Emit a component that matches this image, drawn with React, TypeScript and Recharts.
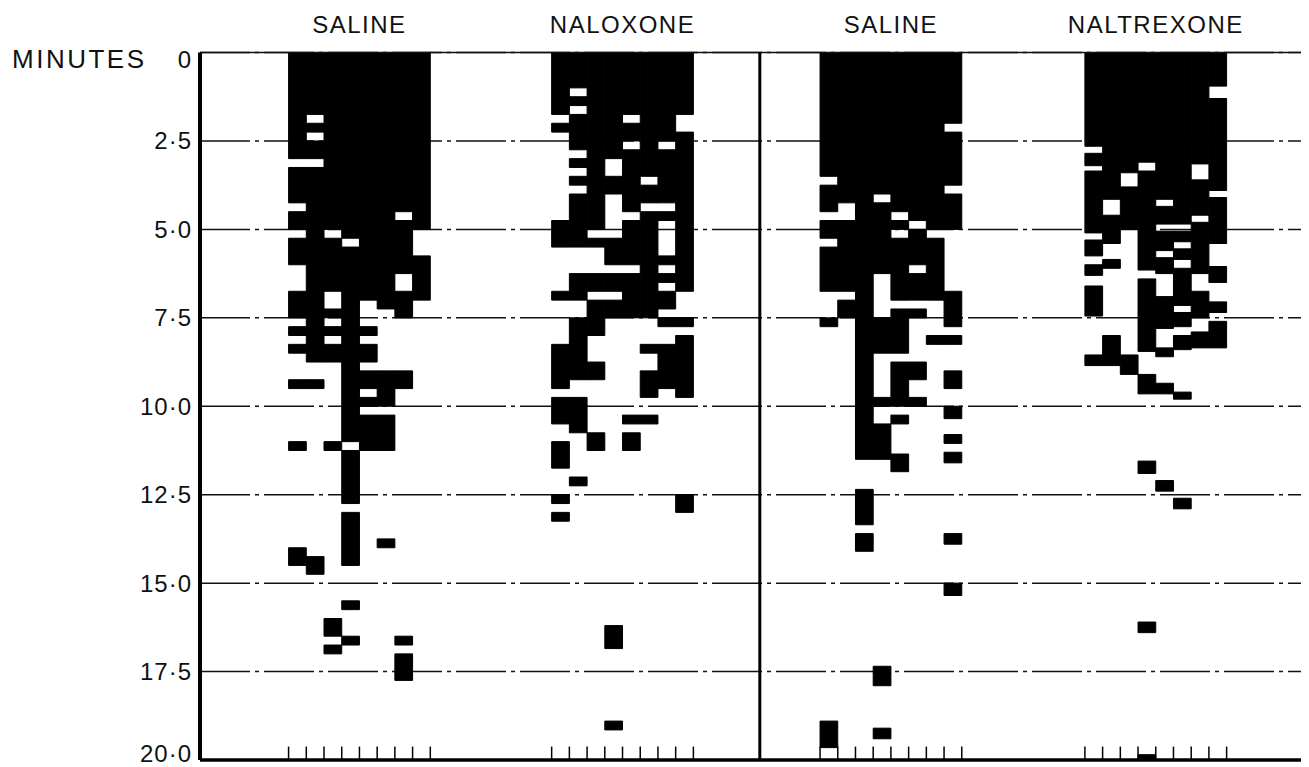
import React from "react";
import {
  CartesianGrid,
  ComposedChart,
  ReferenceArea,
  ReferenceLine,
  Scatter,
  XAxis,
  YAxis,
} from "recharts";

const groups = ["SALINE", "NALOXONE", "SALINE", "NALTREXONE"];
const minuteTicks = [0, 2.5, 5, 7.5, 10, 12.5, 15, 17.5, 20];
const minuteLabels = ["0", "2·5", "5·0", "7·5", "10·0", "12·5", "15·0", "17·5", "20·0"];

// black runs [from, to] in minutes, one list per animal, 8 animals per group
const salineA = [
  [[0, 3], [3.25, 4.25], [4.5, 5], [5.25, 6], [6.75, 7.5], [7.75, 8], [8.25, 8.5], [9.25, 9.5], [11, 11.25], [14, 14.5]],
  [[0, 1.75], [2, 2.25], [2.5, 3], [3.25, 8.75], [9.25, 9.5], [14.25, 14.75]],
  [[0, 5], [5.25, 6.75], [7.25, 7.5], [7.75, 8], [8.25, 8.75], [11, 11.25], [16, 16.5], [16.75, 17]],
  [[0, 5.25], [5.5, 11], [11.25, 12.75], [13, 14.5], [15.5, 15.75], [16.5, 16.75]],
  [[0, 7], [7.75, 8], [8.25, 8.75], [9, 9.5], [9.75, 10], [10.25, 11.25]],
  [[0, 7.25], [9, 10], [10.25, 11.25], [13.75, 14]],
  [[0, 4.5], [4.75, 6.25], [6.75, 7.5], [9, 9.5], [16.5, 16.75], [17, 17.75]],
  [[0, 5], [5.75, 7]],
];

const naloxone = [
  [[0, 1.75], [2, 2.25], [4.75, 5.5], [6.75, 7], [8.25, 9.5], [9.75, 10.5], [11, 11.75], [12.5, 12.75], [13, 13.25]],
  [[0, 1], [1.25, 1.5], [1.75, 2.75], [3, 3.25], [3.5, 3.75], [4, 5.5], [6.25, 7], [7.5, 9.25], [9.75, 10.75], [12, 12.25]],
  [[0, 5], [5.25, 5.5], [6.25, 6.75], [7, 8], [8.75, 9.25], [10.75, 11.25]],
  [[0, 3], [3.5, 4], [5.25, 6], [6.25, 6.75], [7, 7.5], [16.2, 16.85], [18.9, 19.15]],
  [[0, 1.75], [2, 2.5], [2.75, 4.5], [4.75, 6], [6.25, 7.5], [10.25, 10.5], [10.75, 11.25]],
  [[0, 3.5], [3.75, 4.25], [4.5, 7.5], [8.25, 8.5], [9, 9.75], [10.25, 10.5]],
  [[0, 2.5], [2.75, 4.25], [4.5, 4.75], [5.75, 6], [6.25, 6.5], [6.75, 7.25], [7.5, 7.75], [8.25, 9.5]],
  [[0, 1.75], [2.25, 6.75], [7.5, 7.75], [8, 9.75], [12.5, 13]],
];

const salineB = [
  [[0, 3.5], [3.75, 4.5], [4.75, 5.25], [5.5, 6.75], [7.5, 7.75], [18.9, 19.65]],
  [[0, 4.25], [4.75, 6.75], [7, 7.5]],
  [[0, 11.5], [12.35, 13.35], [13.6, 14.1]],
  [[0, 4], [4.25, 6.25], [7.5, 8.5], [9.75, 10], [10.5, 11.5], [17.35, 17.9], [19.1, 19.4]],
  [[0, 4.5], [4.75, 5], [5.25, 7], [7.25, 8.5], [8.75, 10], [10.25, 10.5], [11.35, 11.85]],
  [[0, 4.75], [5, 6], [6.25, 7], [7.25, 7.5], [8.75, 9.25], [9.75, 10]],
  [[0, 5], [5.25, 7], [8, 8.25]],
  [[0, 2], [2.25, 3.75], [4, 5], [6.75, 7.75], [8, 8.25], [9, 9.5], [10, 10.35], [10.8, 11.05], [11.3, 11.6], [13.6, 13.9], [15, 15.35]],
];

const naltrexone = [
  [[0, 2.65], [2.85, 3.2], [3.35, 5.1], [5.3, 5.75], [6, 6.3], [6.6, 7.45], [8.55, 8.85]],
  [[0, 4.15], [4.6, 5.4], [5.85, 6.1], [8, 8.85]],
  [[0, 3.4], [3.8, 5], [8.55, 9.1]],
  [[0, 3.1], [3.35, 6.15], [6.4, 8.45], [9.1, 9.65], [11.55, 11.9], [16.1, 16.4], [19.85, 20]],
  [[0, 4.15], [4.35, 4.85], [5.05, 5.6], [5.8, 6.25], [6.9, 7.8], [8.35, 8.6], [9.35, 9.65], [12.1, 12.4]],
  [[0, 4.85], [5.05, 5.35], [5.55, 5.85], [6.1, 7.15], [7.35, 7.75], [8, 8.4], [9.6, 9.8], [12.6, 12.9]],
  [[0, 3.15], [3.6, 4.6], [4.8, 6.25], [6.75, 7.5], [7.9, 8.35]],
  [[0, 0.95], [1.3, 3.9], [4.1, 5.4], [6.05, 6.5], [7.05, 7.35], [7.6, 8.35]],
];

const runs = [salineA, naloxone, salineB, naltrexone];

// x axis is measured in animal-column widths
const GROUP_START = [5, 19.85, 35, 49.95];
const X_MAX = 62.6;
const DIVIDER = 31.6;
const FONT = "'Liberation Sans', Arial, sans-serif";

// invisible points pinning both axes to their full range
const frame = [
  { col: 0, min: 0 },
  { col: X_MAX, min: 20 },
];

function MinuteTick(props: any) {
  const { x, y, payload } = props;
  const i = minuteTicks.indexOf(payload.value);
  // first label sits level with MINUTES, last one is lifted to stay on the page
  const dy = i === 0 ? 15 : i === minuteTicks.length - 1 ? 2 : 8.5;
  return (
    <text
      x={x}
      y={y}
      dy={dy}
      textAnchor="end"
      fill="#111"
      fontSize={24}
      fontFamily={FONT}
      letterSpacing={1}
    >
      {minuteLabels[i]}
    </text>
  );
}

function GroupTick(props: any) {
  const { x, y, payload } = props;
  const i = GROUP_START.findIndex((s) => Math.abs(s + 4 - payload.value) < 0.01);
  return (
    <text
      x={x}
      y={y}
      dy={-1}
      textAnchor="middle"
      fill="#111"
      fontSize={24}
      fontFamily={FONT}
      letterSpacing={1.5}
    >
      {groups[i]}
    </text>
  );
}

export default function App() {
  const cells: JSX.Element[] = [];
  runs.forEach((group, g) =>
    group.forEach((col, c) =>
      col.forEach(([from, to], k) => {
        const x = GROUP_START[g] + c;
        cells.push(
          <ReferenceArea
            key={`${g}-${c}-${k}`}
            xAxisId="x"
            yAxisId="m"
            x1={x}
            x2={x + 1}
            y1={from}
            y2={to}
            fill="#000"
            fillOpacity={1}
            stroke="#000"
            strokeWidth={1}
            ifOverflow="visible"
          />
        );
      })
    )
  );

  const ticks: JSX.Element[] = [];
  GROUP_START.forEach((start, g) => {
    for (let k = 0; k <= 8; k++) {
      ticks.push(
        <ReferenceLine
          key={`t-${g}-${k}`}
          xAxisId="x"
          yAxisId="m"
          segment={[
            { x: start + k, y: 20 },
            { x: start + k, y: 19.62 },
          ]}
          stroke="#000"
          strokeWidth={1.5}
          ifOverflow="visible"
        />
      );
    }
  });

  return (
    <div style={{ position: "relative", width: 1301, height: 770 }}>
      <div
        style={{
          position: "absolute",
          left: 4,
          top: 38,
          fontFamily: FONT,
          fontSize: 26,
          lineHeight: 1,
          letterSpacing: 2.5,
          color: "#111",
        }}
      >
        MINUTES
      </div>
      <ComposedChart
        width={1301}
        height={770}
        data={frame}
        margin={{ top: 0, right: 0, bottom: 18, left: 0 }}
      >
        <CartesianGrid
          xAxisId="x"
          yAxisId="m"
          vertical={false}
          stroke="#111"
          strokeWidth={1.5}
          strokeDasharray="50 5 4 5"
        />
        <XAxis
          xAxisId="top"
          orientation="top"
          dataKey="col"
          type="number"
          domain={[0, X_MAX]}
          ticks={GROUP_START.map((s) => s + 4)}
          interval={0}
          axisLine={false}
          tickLine={false}
          tickSize={0}
          tickMargin={19}
          height={44.5}
          tick={<GroupTick />}
        />
        <XAxis
          xAxisId="x"
          dataKey="col"
          type="number"
          domain={[0, X_MAX]}
          height={0}
          tick={false}
          tickLine={false}
          axisLine={false}
        />
        <YAxis
          yAxisId="m"
          dataKey="min"
          type="number"
          domain={[0, 20]}
          reversed
          ticks={minuteTicks}
          interval={0}
          width={192}
          tickSize={0}
          tickMargin={8}
          tickLine={false}
          axisLine={{ stroke: "#000", strokeWidth: 4 }}
          tick={<MinuteTick />}
        />
        <Scatter
          xAxisId="x"
          yAxisId="m"
          dataKey="min"
          fill="none"
          shape={() => null}
          isAnimationActive={false}
        />
        <Scatter
          xAxisId="top"
          yAxisId="m"
          dataKey="min"
          fill="none"
          shape={() => null}
          isAnimationActive={false}
        />
        <ReferenceLine
          xAxisId="x"
          yAxisId="m"
          y={0}
          stroke="#111"
          strokeWidth={1.5}
          ifOverflow="visible"
        />
        {cells}
        <ReferenceLine
          xAxisId="x"
          yAxisId="m"
          x={DIVIDER}
          stroke="#000"
          strokeWidth={3}
          ifOverflow="visible"
        />
        <ReferenceLine
          xAxisId="x"
          yAxisId="m"
          y={20}
          stroke="#000"
          strokeWidth={3.5}
          ifOverflow="visible"
        />
        {ticks}
      </ComposedChart>
    </div>
  );
}
